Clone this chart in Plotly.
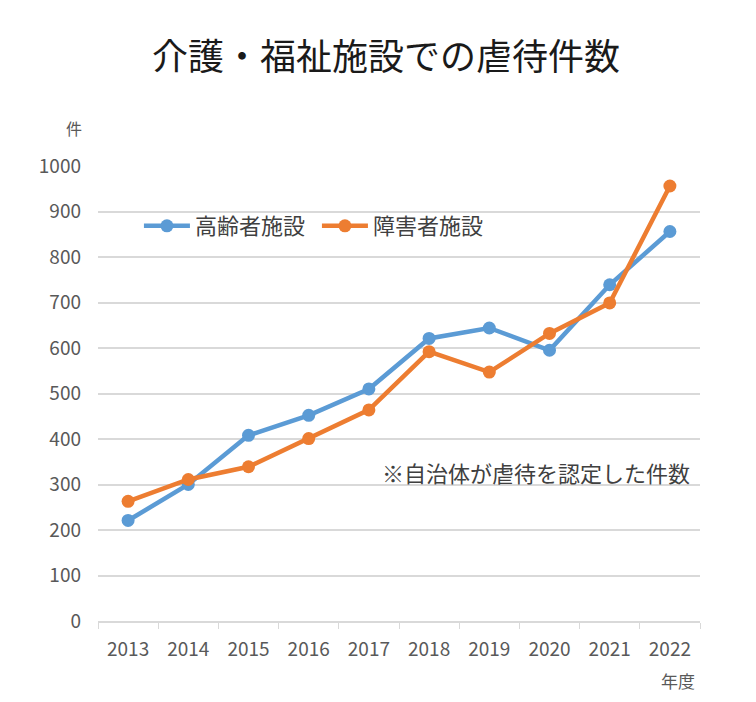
# Packages:
import plotly.graph_objects as go

# Data:
years = ["2013", "2014", "2015", "2016", "2017", "2018", "2019", "2020", "2021", "2022"]
elderly = [221, 300, 408, 452, 510, 621, 644, 595, 739, 856]
disabled = [263, 311, 339, 401, 464, 592, 547, 632, 699, 956]
series_names = ["高齢者施設", "障害者施設"]
colors = ["#5B9BD5", "#ED7D31"]

font_family = "Noto Sans CJK JP"
text_gray = "#595959"

fig = go.Figure()
for name, vals, col in zip(series_names, [elderly, disabled], colors):
    fig.add_trace(
        go.Scatter(
            x = years,
            y = vals,
            name = name,
            mode = "lines+markers",
            line = dict(color = col, width = 4.5),
            marker = dict(color = col, size = 13)
        )
    )

fig.update_layout(
    width = 756,
    height = 702,
    margin = dict(l = 90, r = 64, t = 158, b = 89, autoexpand = False),
    paper_bgcolor = "white",
    plot_bgcolor = "white",
    font = dict(family = font_family, color = text_gray),
    title = dict(
        text = "介護・福祉施設での虐待件数",
        x = 0.5,
        xanchor = "center",
        y = 0.929,
        yanchor = "middle",
        font = dict(size = 36, color = "#1a1a1a")
    ),
    legend = dict(
        orientation = "h",
        x = 0.068,
        y = 0.868,
        xanchor = "left",
        yanchor = "middle",
        font = dict(size = 22, color = "#404040"),
        bgcolor = "rgba(0,0,0,0)",
        itemwidth = 46,
        entrywidth = 117,
        tracegroupgap = 0
    ),
    showlegend = True
)

fig.update_xaxes(
    type = "category",
    range = [-0.5, 9.5],
    showgrid = False,
    showline = True,
    linecolor = "#d9d9d9",
    linewidth = 1.5,
    ticks = "outside",
    tickson = "boundaries",
    ticklen = 6,
    tickcolor = "#d9d9d9",
    ticklabelstandoff = 10,
    tickfont = dict(size = 19, color = text_gray),
    automargin = False,
    fixedrange = True
)
fig.update_yaxes(
    range = [0, 1000],
    dtick = 100,
    showgrid = True,
    gridcolor = "#d9d9d9",
    gridwidth = 1.5,
    zeroline = False,
    showline = False,
    ticks = "",
    ticklabelstandoff = 16,
    automargin = False,
    tickfont = dict(size = 19, color = text_gray)
)

# Axis unit labels and note:
fig.add_annotation(text = "件", xref = "paper", yref = "paper", x = -0.04, y = 1.084,
                   xanchor = "center", yanchor = "middle",
                   showarrow = False, font = dict(size = 16, color = text_gray))
fig.add_annotation(text = "年度", xref = "paper", yref = "paper", x = 0.963, y = -0.13,
                   xanchor = "center", yanchor = "middle",
                   showarrow = False, font = dict(size = 17, color = text_gray))
fig.add_annotation(text = "※自治体が虐待を認定した件数", xref = "paper", yref = "y",
                   x = 0.987, y = 327, xanchor = "right", yanchor = "middle",
                   showarrow = False, font = dict(size = 22, color = "#404040"))

fig.write_html("out.html")
